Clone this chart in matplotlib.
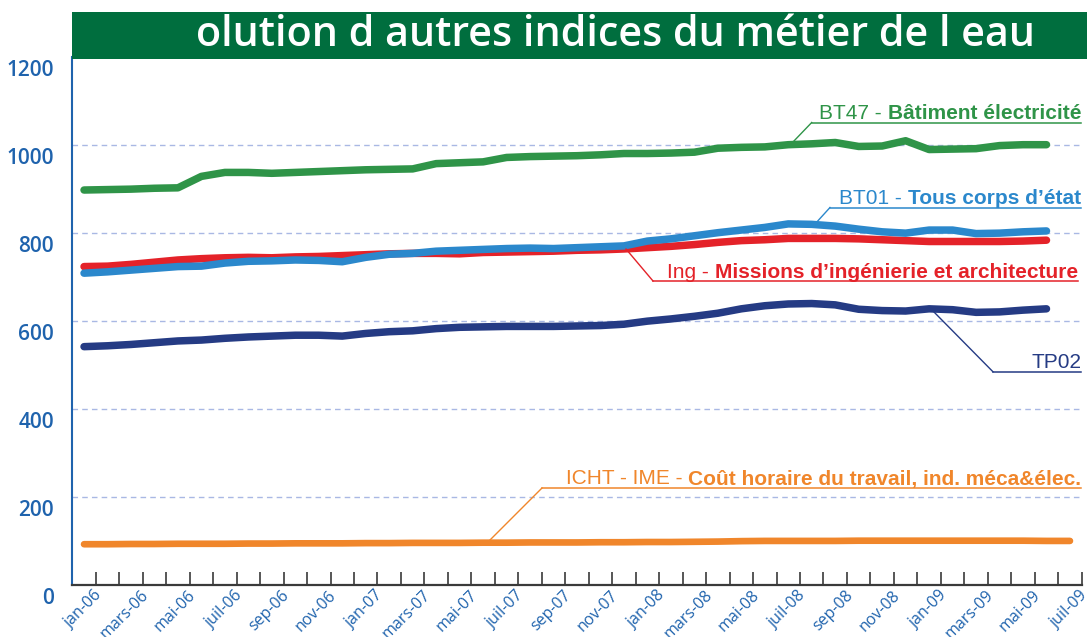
import matplotlib
matplotlib.use('Agg')
import matplotlib.pyplot as plt
from matplotlib.patches import Rectangle
from matplotlib.lines import Line2D
from matplotlib.transforms import ScaledTranslation
from matplotlib import font_manager
import numpy as np

# ---------------- data ----------------
tick_labels = ['jan-06', 'mars-06', 'mai-06', 'juil-06', 'sep-06', 'nov-06',
               'jan-07', 'mars-07', 'mai-07', 'juil-07', 'sep-07', 'nov-07',
               'jan-08', 'mars-08', 'mai-08', 'juil-08', 'sep-08', 'nov-08',
               'jan-09', 'mars-09', 'mai-09', 'juil-09']

bt47 = [897, 898, 899, 901, 902, 928, 937, 937, 935, 937, 939, 941, 943, 944,
        945, 957, 959, 961, 971, 973, 974, 975, 977, 980, 980, 981, 983, 992,
        994, 995, 1000, 1002, 1005, 996, 997, 1009, 989, 990, 991, 998, 1000, 1000]
bt01 = [708, 711, 715, 719, 723, 724, 731, 735, 736, 738, 737, 734, 744, 751,
        753, 758, 760, 762, 764, 765, 764, 766, 768, 770, 781, 786, 793, 800,
        806, 812, 820, 819, 815, 808, 802, 799, 806, 806, 798, 799, 802, 804]
ing = [723, 724, 728, 733, 738, 741, 743, 744, 743, 745, 746, 748, 750, 752,
       753, 753, 752, 755, 756, 757, 758, 760, 761, 763, 766, 769, 773, 778,
       782, 784, 787, 787, 787, 786, 784, 782, 780, 780, 780, 780, 781, 783]
tp02 = [541, 543, 546, 550, 554, 556, 560, 563, 565, 567, 567, 565, 571, 575,
        577, 582, 585, 586, 587, 587, 587, 588, 589, 592, 599, 604, 610, 617,
        627, 634, 638, 639, 636, 626, 623, 622, 627, 625, 619, 620, 624, 627]
icht = [92, 92, 92.5, 92.5, 93, 93, 93, 93.5, 93.5, 94, 94, 94, 94.5, 94.5,
        95, 95, 95, 95.5, 95.5, 96, 96, 96, 96.5, 96.5, 97, 97, 97.5, 98,
        99, 99.5, 99.5, 99.5, 99.5, 100, 100, 100, 100, 100, 100, 100, 100,
        99.5, 99.5]

title = "olution d autres indices du métier de l eau"

# ---------------- styling ----------------
W, H = 1090, 637
names = {f.name for f in font_manager.fontManager.ttflist}
NARROW = 'Liberation Sans Narrow' if 'Liberation Sans Narrow' in names else 'Liberation Sans'
SANS = 'Open Sans' if 'Open Sans' in names else 'DejaVu Sans'

C_GREEN = '#2f9448'
C_LBLUE = '#2b88cc'
C_RED = '#e42229'
C_NAVY = '#253b84'
C_ORANGE = '#f0862b'
C_TITLE = '#006e3e'
C_AXBLUE = '#1f63ad'
C_GRID = '#a9b8e4'

fig = plt.figure(figsize=(W / 100, H / 100), dpi=100)


def fx(x):
    return x / W


def fy(y):
    return 1 - y / H


ax_left, ax_right, ax_top, ax_bottom = 72.3, 1081.7, 56.7, 584.7
ax = fig.add_axes([fx(ax_left), fy(ax_bottom), fx(ax_right - ax_left),
                   (ax_bottom - ax_top) / H])

n_all = len(icht)
ax.set_xlim(-0.5, n_all - 0.5)
ax.set_ylim(0, 1200)

# grid
for yv in [200, 400, 600, 800, 1000]:
    ax.axhline(yv, color=C_GRID, lw=1.0, ls=(0, (4, 3)), zorder=1)

lw = 5.4
series = [(tp02, C_NAVY), (ing, C_RED), (bt01, C_LBLUE), (bt47, C_GREEN), (icht, C_ORANGE)]
for vals, col in series:
    ax.plot(np.arange(len(vals)), vals, color=col, lw=lw if col != C_ORANGE else 4.8,
            solid_capstyle='round', solid_joinstyle='round', zorder=3)

# spines
for s in ['top', 'right']:
    ax.spines[s].set_visible(False)
ax.spines['left'].set_color(C_AXBLUE)
ax.spines['left'].set_linewidth(1.5)
ax.spines['bottom'].set_color('#3a3a3a')
ax.spines['bottom'].set_linewidth(1.6)

# y ticks
ax.set_yticks([0, 200, 400, 600, 800, 1000, 1200])
ax.set_yticklabels(['0', '200', '400', '600', '800', '1000', '1200'],
                   fontsize=15, color=C_AXBLUE, family=SANS, fontweight='semibold')
ax.tick_params(axis='y', length=0, pad=13)
off = ScaledTranslation(0, -11 / 100, fig.dpi_scale_trans)
for lab in ax.get_yticklabels():
    lab.set_transform(lab.get_transform() + off)

# x ticks: marks at slot boundaries, labels at every second slot centre
ax.set_xticks(np.arange(0.5, n_all, 1.0))
ax.set_xticklabels([])
ax.tick_params(axis='x', which='major', direction='in', length=9.5,
               width=1.2, color='#3a3a3a')
ax.set_xticks(np.arange(0, n_all, 2), minor=True)
ax.set_xticklabels(tick_labels, minor=True, rotation=45, ha='right',
                   fontsize=11.5, color=C_AXBLUE, family=SANS)
ax.tick_params(axis='x', which='minor', length=0, pad=2)
offx = ScaledTranslation(21 / 100, 0, fig.dpi_scale_trans)
for lab in ax.get_xticklabels(minor=True):
    lab.set_transform(lab.get_transform() + offx)

ax.set_facecolor('none')

# title banner
fig.patches.append(Rectangle((fx(72), fy(59)), fx(1087 - 72), (59 - 12) / H,
                             transform=fig.transFigure, facecolor=C_TITLE,
                             edgecolor='none', zorder=5))
renderer = fig.canvas.get_renderer()
t = fig.text(fx(616), fy(35.5), title, ha='center', va='center', color='white',
             fontsize=30, family=SANS, fontweight='semibold', zorder=6)
bb = t.get_window_extent(renderer)
t.set_fontsize(30 * 838 / bb.width)


# annotations
def label(x_right, y_base, light, bold, color, ux0, lead_to):
    x_cur = x_right
    if bold:
        tb = fig.text(fx(x_cur), fy(y_base), bold, ha='right', va='baseline',
                      color=color, fontsize=15, family=NARROW, fontweight='bold')
        x_cur -= tb.get_window_extent(renderer).width
    fig.text(fx(x_cur), fy(y_base), light, ha='right', va='baseline',
             color=color, fontsize=15, family=NARROW)
    uy = y_base + 3.5
    fig.add_artist(Line2D([fx(ux0), fx(x_right)], [fy(uy), fy(uy)],
                          transform=fig.transFigure, color=color, lw=1.1))
    fig.add_artist(Line2D([fx(ux0), fx(lead_to[0])], [fy(uy), fy(lead_to[1])],
                          transform=fig.transFigure, color=color, lw=1.0))


label(1081, 119, 'BT47 - ', 'Bâtiment électricité', C_GREEN, 811.7, (792.7, 142.3))
label(1081, 204, 'BT01 - ', 'Tous corps d’état', C_LBLUE, 830, (815, 224))
label(1078, 277.5, 'Ing - ', 'Missions d’ingénierie et architecture', C_RED, 653, (626, 249))
label(1081, 368.3, 'TP02', '', C_NAVY, 993, (933, 311))
label(1081, 484.5, 'ICHT - IME - ', 'Coût horaire du travail, ind. méca&élec.', C_ORANGE, 542, (489, 541))

fig.savefig('out.png', dpi=100)
